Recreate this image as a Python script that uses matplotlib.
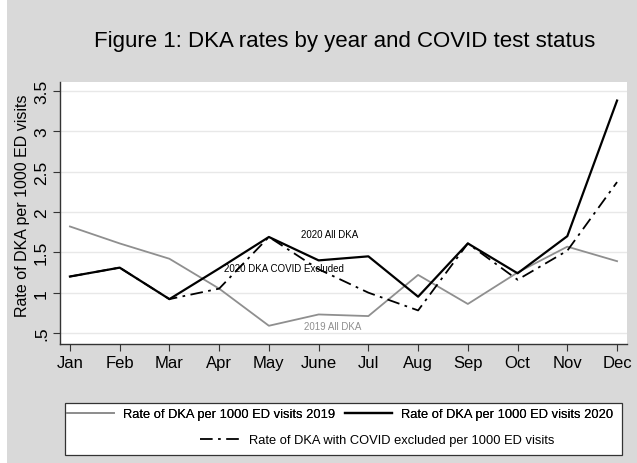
import matplotlib
matplotlib.use("Agg")
import matplotlib.pyplot as plt
from matplotlib.lines import Line2D
from matplotlib.patches import Rectangle

plt.rcParams['font.family'] = ['Liberation Sans', 'DejaVu Sans']

# ── datos ──
months = ["Jan", "Feb", "Mar", "Apr", "May", "June", "Jul", "Aug", "Sep", "Oct", "Nov", "Dec"]
rate_2019 = [1.82, 1.61, 1.42, 1.05, 0.59, 0.73, 0.71, 1.22, 0.86, 1.25, 1.57, 1.39]
rate_2020 = [1.20, 1.31, 0.92, 1.30, 1.69, 1.40, 1.45, 0.95, 1.61, 1.24, 1.70, 3.38]
rate_covid_excl = [1.20, 1.31, 0.92, 1.05, 1.69, 1.29, 1.00, 0.78, 1.61, 1.16, 1.52, 2.37]
yticks = [0.5, 1, 1.5, 2, 2.5, 3, 3.5]
ytick_labels = [".5", "1", "1.5", "2", "2.5", "3", "3.5"]

BG = "#d9d9d9"
GRAY = "#8f8f8f"

fig = plt.figure(figsize=(6.37, 4.64), dpi=100, facecolor=BG)
# franja blanca a la izquierda
fig.patches.append(Rectangle((0, 0), 7 / 637, 1, transform=fig.transFigure,
                             facecolor="white", edgecolor="none", zorder=0))

ax = fig.add_axes([60 / 637, 1 - 345 / 464, 567 / 637, 262 / 464])
ax.set_facecolor("white")

x = list(range(len(months)))
ax.plot(x, rate_2019, color=GRAY, lw=1.3, zorder=3)
ax.plot(x, rate_2020, color="black", lw=1.6, zorder=4)
ax.plot(x, rate_covid_excl, color="black", lw=1.3, dashes=(7, 3, 1.5, 3), zorder=5)

# etiquetas dentro del gráfico
ax.text(4.65, 1.73, "2020 All DKA", fontsize=7, color="black", va="center", zorder=6)
ax.text(3.1, 1.30, "2020 DKA COVID Excluded", fontsize=7, color="black", va="center", zorder=6)
ax.text(4.7, 0.59, "2019 All DKA", fontsize=7, color=GRAY, va="center", zorder=6)

ax.set_xlim(-0.2, 11.2)
ax.set_ylim(0.364, 3.61)
ax.set_xticks(x)
ax.set_xticklabels(months, fontsize=12)
ax.set_yticks(yticks)
ax.set_yticklabels(ytick_labels, fontsize=12.5, rotation=90, va="center")
ax.set_ylabel("Rate of DKA per 1000 ED visits", fontsize=11.5)
ax.yaxis.set_label_coords(-0.053, 0.53)

ax.grid(axis="y", color="#e8e8e8", lw=1)
ax.set_axisbelow(True)
for s in ["top", "right"]:
    ax.spines[s].set_visible(False)
for s in ["left", "bottom"]:
    ax.spines[s].set_color("#333333")
    ax.spines[s].set_linewidth(1.0)
ax.tick_params(axis="both", direction="out", length=5, width=0.8, color="#333333", pad=3)

fig.text(345 / 637, 1 - 42 / 464, "Figure 1: DKA rates by year and COVID test status",
         ha="center", va="center", fontsize=16)

# ── leyenda estilo Stata ──
fig.patches.append(Rectangle((65 / 637, 1 - 456 / 464), 557 / 637, 52 / 464,
                             transform=fig.transFigure, facecolor="white",
                             edgecolor="#333333", lw=0.9, zorder=1))
h1 = [Line2D([], [], color=GRAY, lw=1.3), Line2D([], [], color="black", lw=1.6)]
leg1 = fig.legend(h1, ["Rate of DKA per 1000 ED visits 2019", "Rate of DKA per 1000 ED visits 2020"],
                  loc="center", bbox_to_anchor=(340 / 637, 1 - 415 / 464), ncol=2,
                  frameon=False, fontsize=9.3, handlelength=3.7, handletextpad=0.7,
                  columnspacing=0.7)
h2 = [Line2D([], [], color="black", lw=1.3, dashes=(7, 3, 1.5, 3))]
leg2 = fig.legend(h2, ["Rate of DKA with COVID excluded per 1000 ED visits"],
                  loc="center", bbox_to_anchor=(377 / 637, 1 - 441 / 464),
                  frameon=False, fontsize=9.3, handlelength=3.0, handletextpad=0.8)
fig.add_artist(leg1)

fig.savefig("out.png", dpi=100, facecolor=BG)
